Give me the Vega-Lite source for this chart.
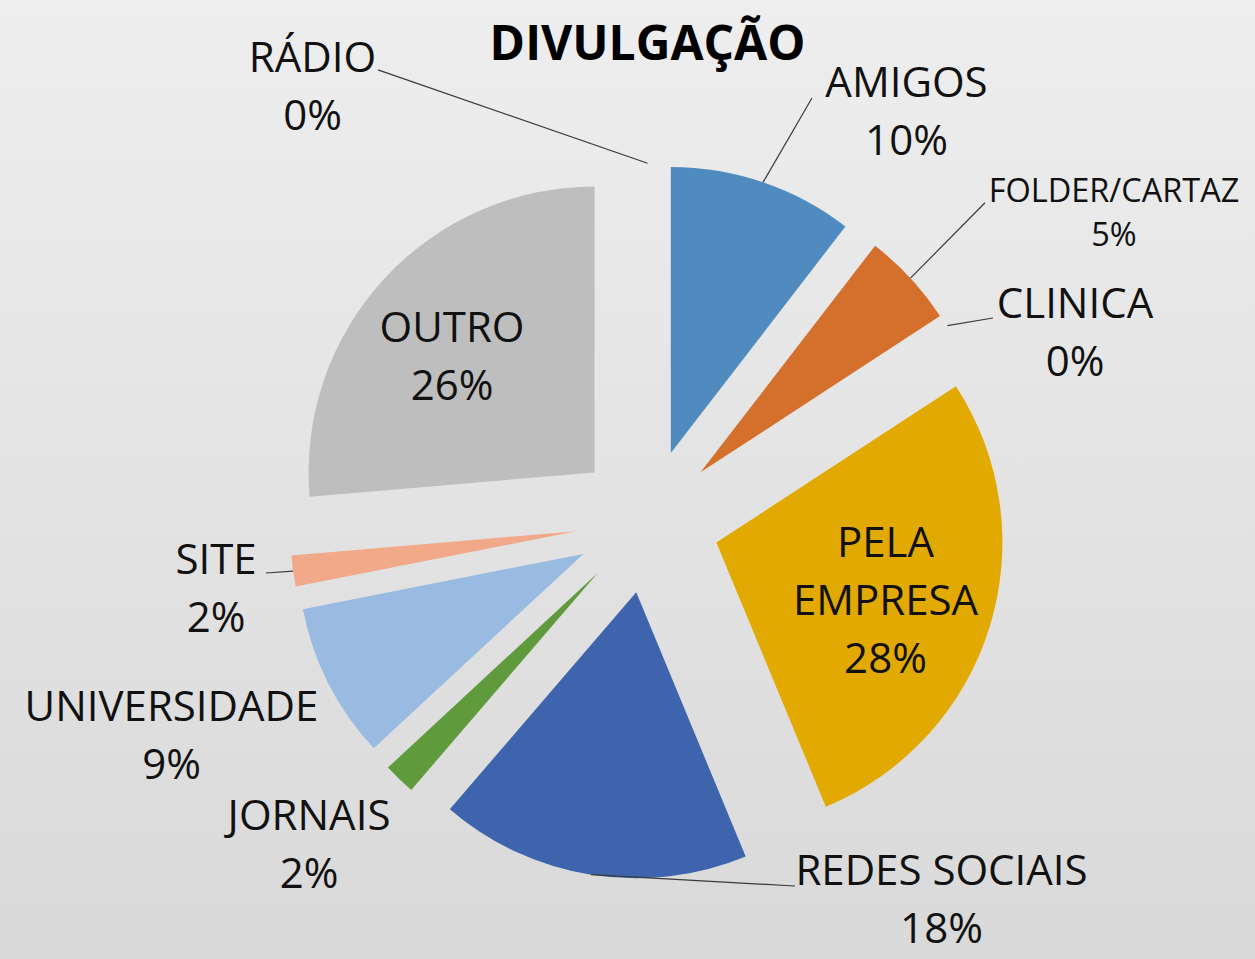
{
  "$schema": "https://vega.github.io/schema/vega-lite/v6.json",
  "width": 1255,
  "height": 959,
  "autosize": {"type": "none"},
  "padding": 0,
  "background": "#e3e3e3",
  "config": {
    "view": {
      "stroke": null,
      "fill": {"gradient": "linear", "x1": 0, "y1": 0, "x2": 0, "y2": 1,
        "stops": [{"offset": 0, "color": "#eeeeee"}, {"offset": 1, "color": "#d9d9d9"}]}
    }
  },
  "title": {
    "text": "DIVULGAÇÃO",
    "font": "Open Sans",
    "fontSize": 48,
    "fontWeight": "bold",
    "color": "#000000",
    "anchor": "middle",
    "baseline": "alphabetic",
    "dx": 20,
    "dy": 112
  },
  "datasets": {
    "slices": [
      {"category": "AMIGOS", "value": 10.45},
      {"category": "FOLDER/CARTAZ", "value": 5.35},
      {"category": "CLINICA", "value": 0},
      {"category": "PELA EMPRESA", "value": 27.95},
      {"category": "REDES SOCIAIS", "value": 17.55},
      {"category": "JORNAIS", "value": 1.8},
      {"category": "UNIVERSIDADE", "value": 8.8},
      {"category": "SITE", "value": 1.75},
      {"category": "OUTRO", "value": 26.35},
      {"category": "RÁDIO", "value": 0}
    ],
    "labels": [
      {"category": "AMIGOS", "lx": 0.9052, "ly": 1.4832, "ax": 0.5748, "ay": 1.4797},
      {"category": "FOLDER/CARTAZ", "lx": 1.6308, "ly": 1.1161, "ax": 1.1797, "ay": 1.1133},
      {"category": "CLINICA", "lx": 1.4944, "ly": 0.7105, "ax": 1.2077, "ay": 0.7105},
      {"category": "PELA EMPRESA", "lx": 0.8318, "ly": -0.1252},
      {"category": "REDES SOCIAIS", "lx": 1.0276, "ly": -1.272, "ax": 0.5154, "ay": -1.2755},
      {"category": "JORNAIS", "lx": -1.1839, "ly": -1.0797},
      {"category": "UNIVERSIDADE", "lx": -1.6647, "ly": -0.6986},
      {"category": "SITE", "lx": -1.5091, "ly": -0.1829, "ax": -1.3343, "ay": -0.1811},
      {"category": "OUTRO", "lx": -0.6839, "ly": 0.6266},
      {"category": "RÁDIO", "lx": -1.1717, "ly": 1.5706, "ax": -0.9427, "ay": 1.578}
    ]
  },
  "data": {"name": "slices"},
  "transform": [
    {"window": [{"op": "sum", "field": "value", "as": "cum"}], "frame": [null, 0]},
    {"calculate": "datum.cum - datum.value", "as": "start"},
    {"calculate": "(datum.cum - datum.value / 2) / 100 * 2 * PI", "as": "mid"},
    {"calculate": "0.2517 * sin(datum.mid)", "as": "cx"},
    {"calculate": "0.2517 * cos(datum.mid)", "as": "cy"},
    {"calculate": "1.2517 * sin(datum.mid)", "as": "ex"},
    {"calculate": "1.2517 * cos(datum.mid)", "as": "ey"},
    {"calculate": "(datum.category == 'PELA EMPRESA' ? 'PELA\\nEMPRESA' : datum.category) + '\\n' + format(datum.value, '.0f') + '%'", "as": "label"},
    {"lookup": "category", "from": {"data": {"name": "labels"}, "key": "category", "fields": ["lx", "ly", "ax", "ay"]}}
  ],
  "layer": [
    {
      "mark": {"type": "arc", "outerRadius": 286, "innerRadius": 0},
      "encoding": {
        "theta": {"field": "start", "type": "quantitative", "stack": null, "scale": {"domain": [0, 100]}},
        "theta2": {"field": "cum"},
        "x": {"field": "cx", "type": "quantitative", "axis": null, "scale": {"domain": [-1, 1], "range": [361.6, 933.6], "nice": false, "zero": false}},
        "y": {"field": "cy", "type": "quantitative", "axis": null, "scale": {"domain": [-1, 1], "range": [807.2, 235.2], "nice": false, "zero": false}},
        "color": {
          "field": "category", "type": "nominal", "legend": null,
          "scale": {
            "domain": ["AMIGOS", "FOLDER/CARTAZ", "CLINICA", "PELA EMPRESA", "REDES SOCIAIS", "JORNAIS", "UNIVERSIDADE", "SITE", "OUTRO", "RÁDIO"],
            "range": ["#4f8bbf", "#d5702c", "#a5a5a5", "#e2a900", "#3d64ad", "#5f9b3c", "#99bae1", "#f2a98a", "#bebebe", "#888888"]
          }
        }
      }
    },
    {
      "transform": [{"filter": "isValid(datum.ax)"}],
      "mark": {"type": "rule", "color": "#3a3a3a", "strokeWidth": 1.2},
      "encoding": {
        "x": {"field": "ex", "type": "quantitative", "axis": null, "scale": {"domain": [-1, 1], "range": [361.6, 933.6], "nice": false, "zero": false}},
        "y": {"field": "ey", "type": "quantitative", "axis": null, "scale": {"domain": [-1, 1], "range": [807.2, 235.2], "nice": false, "zero": false}},
        "x2": {"field": "ax"},
        "y2": {"field": "ay"}
      }
    },
    {
      "transform": [{"filter": "datum.category != 'FOLDER/CARTAZ'"}],
      "mark": {"type": "text", "font": "Open Sans", "fontSize": 42, "lineHeight": 58, "align": "center", "baseline": "alphabetic", "lineBreak": "\n", "color": "#111111"},
      "encoding": {
        "x": {"field": "lx", "type": "quantitative", "axis": null, "scale": {"domain": [-1, 1], "range": [361.6, 933.6], "nice": false, "zero": false}},
        "y": {"field": "ly", "type": "quantitative", "axis": null, "scale": {"domain": [-1, 1], "range": [807.2, 235.2], "nice": false, "zero": false}},
        "text": {"field": "label"}
      }
    },
    {
      "transform": [{"filter": "datum.category == 'FOLDER/CARTAZ'"}],
      "mark": {"type": "text", "font": "Open Sans", "fontSize": 32.5, "lineHeight": 44, "align": "center", "baseline": "alphabetic", "lineBreak": "\n", "color": "#111111"},
      "encoding": {
        "x": {"field": "lx", "type": "quantitative", "axis": null, "scale": {"domain": [-1, 1], "range": [361.6, 933.6], "nice": false, "zero": false}},
        "y": {"field": "ly", "type": "quantitative", "axis": null, "scale": {"domain": [-1, 1], "range": [807.2, 235.2], "nice": false, "zero": false}},
        "text": {"field": "label"}
      }
    }
  ]
}
